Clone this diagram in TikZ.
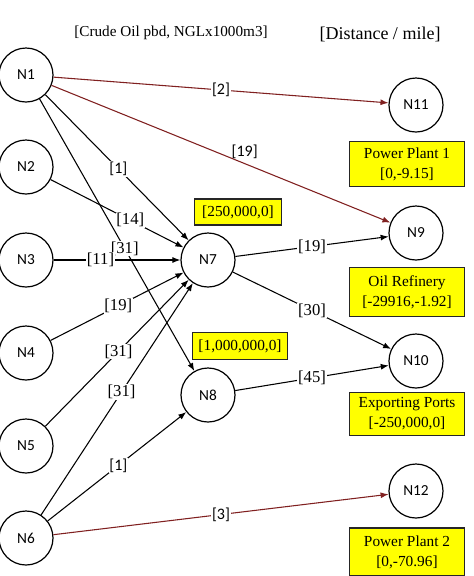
\documentclass[tikz,border=0pt]{standalone}
\usepackage{fontspec}
\setmainfont{Liberation Serif}
\newfontfamily\calib{Carlito}
\usetikzlibrary{arrows.meta}
\definecolor{flowred}{RGB}{128,32,32}
\definecolor{tagyellow}{RGB}{255,255,0}

\begin{document}
\begin{tikzpicture}[x=0.75pt,y=-0.75pt,
  nd/.style={circle,draw,line width=0.9pt,minimum size=40.5pt,inner sep=0pt,font=\calib\fontsize{11.5}{13}\selectfont},
  tag/.style={draw=black!85,fill=tagyellow,line width=0.8pt,align=center,inner sep=1pt,font=\fontsize{11.5}{15}\selectfont},
  fl/.style={-{Latex[length=6pt,width=4.5pt]},line width=0.8pt},
  wsans/.style={fill=white,text=black,inner sep=0.6pt,font=\calib\fontsize{12}{14}\selectfont},
  wser/.style={fill=white,text=black,inner sep=0.6pt,font=\fontsize{12.5}{14}\selectfont}]
\useasboundingbox (0,0) rectangle (474,576);
% headers
\node (hdflow) [font=\fontsize{11.4}{14}\selectfont] at (171,33) {[Crude Oil pbd, NGLx1000m3]};
\node (hddist) [font=\fontsize{13.5}{16}\selectfont] at (380,34) {[Distance / mile]};
% supply nodes
\node (N1) [nd] at (26,75) {N1};
\node (N2) [nd] at (26,167) {N2};
\node (N3) [nd] at (26,260) {N3};
\node (N4) [nd] at (26,353) {N4};
\node (N5) [nd] at (26,446) {N5};
\node (N6) [nd] at (26,538) {N6};
% hubs
\node (N7) [nd] at (208,260) {N7};
\node (N8) [nd] at (208,395) {N8};
% demand nodes
\node (N11) [nd] at (416,105) {N11};
\node (N9) [nd] at (416,233) {N9};
\node (N10) [nd] at (416,361) {N10};
\node (N12) [nd] at (416,491) {N12};
% yellow tags
\node (capN7) [tag,minimum width=65pt,minimum height=19.5pt] at (238,212) {[250,000,0]};
\node (capN8) [tag,minimum width=71pt,minimum height=20pt] at (240,346) {[1,000,000,0]};
\node (PP1) [tag,minimum width=86pt,minimum height=34pt] at (407,164) {Power Plant 1\\{}[0,-9.15]};
\node (OR) [tag,minimum width=86pt,minimum height=37pt] at (407,292) {Oil Refinery\\{}[-29916,-1.92]};
\node (EP) [tag,minimum width=86pt,minimum height=32pt] at (407,414) {Exporting Ports\\{}[-250,000,0]};
\node (PP2) [tag,minimum width=86pt,minimum height=36pt] at (407,552) {Power Plant 2\\{}[0,-70.96]};
% flows
\draw[fl,flowred] (N1) -- (N11) node[wsans,pos=0.5] (w1) {[2]};
\draw[fl,flowred] (N1) -- (N9) node[pos=0.57,above=3pt,text=black,inner sep=0.6pt,font=\calib\fontsize{12}{14}\selectfont] (w2) {[19]};
\draw[fl] (N1) -- (N7) node[wsans,pos=0.51] (w3) {[1]};
\draw[fl] (N1) -- (N8) node[wser,pos=0.55] (w4) {[31]};
\draw[fl] (N2) -- (N7) node[wser,pos=0.6] (w5) {[14]};
\draw[fl] (N3) -- (N7) node[wser,pos=0.37] (w6) {[11]};
\draw[fl] (N4) -- (N7) node[wser,pos=0.51] (w7) {[19]};
\draw[fl] (N5) -- (N7) node[wser,pos=0.51] (w8) {[31]};
\draw[fl] (N6) -- (N7) node[wser,pos=0.53] (w9) {[31]};
\draw[fl] (N6) -- (N8) node[wsans,pos=0.51] (w10) {[1]};
\draw[fl,flowred] (N6) -- (N12) node[wsans,pos=0.5] (w11) {[3]};
\draw[fl] (N7) -- (N9) node[wser,pos=0.5] (w12) {[19]};
\draw[fl] (N7) -- (N10) node[wser,pos=0.5] (w13) {[30]};
\draw[fl] (N8) -- (N10) node[wser,pos=0.5] (w14) {[45]};
\end{tikzpicture}
\end{document}
